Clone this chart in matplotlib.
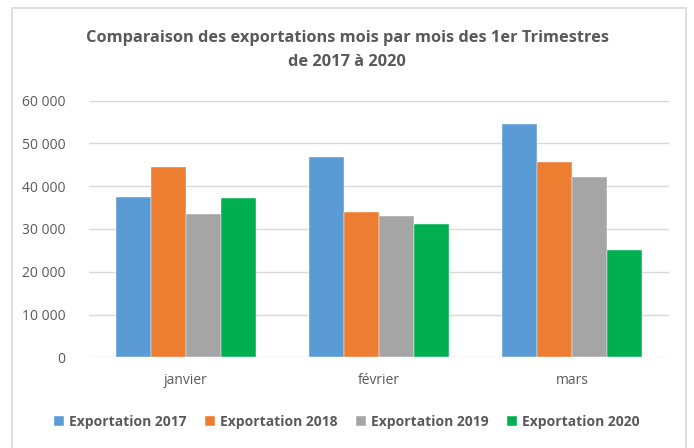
import matplotlib.pyplot as plt
import numpy as np
from matplotlib.patches import Rectangle
from matplotlib.ticker import FuncFormatter, MultipleLocator

plt.rcParams['font.family'] = ['Open Sans', 'DejaVu Sans']

mois = ['janvier', 'février', 'mars']
exp_2017 = [37400, 46800, 54600]
exp_2018 = [44400, 33900, 45700]
exp_2019 = [33400, 33100, 42100]
exp_2020 = [37200, 31100, 25000]
series = ['Exportation 2017', 'Exportation 2018', 'Exportation 2019', 'Exportation 2020']
couleurs = ['#5B9BD5', '#ED7D31', '#A5A5A5', '#00B050']

fig = plt.figure(figsize=(6.94, 4.48), dpi=100)
ax = fig.add_axes([89/694, (448-357.3)/448, 580/694, 256.6/448])

# cadre gris autour du graphique
fig.patches.append(Rectangle((12/694, -0.02), 674/694, (448-8)/448 + 0.02,
                             transform=fig.transFigure, fill=False,
                             edgecolor='#D9D9D9', linewidth=1.2))

x = np.arange(len(mois))
w = 0.181
for i, vals in enumerate([exp_2017, exp_2018, exp_2019, exp_2020]):
    ax.bar(x + (i - 1.5) * w, vals, w, color=couleurs[i], label=series[i],
           edgecolor='white', linewidth=0.3, zorder=3)

ax.set_xlim(-0.5, 2.5)
ax.set_ylim(0, 60000)
ax.yaxis.set_major_locator(MultipleLocator(10000))
ax.yaxis.set_major_formatter(FuncFormatter(lambda v, p: f"{int(v):,}".replace(',', ' ')))
ax.grid(axis='y', color='#D9D9D9', linewidth=1, zorder=0)
for s in ax.spines.values():
    s.set_visible(False)
ax.tick_params(length=0, colors='#595959')
ax.tick_params(axis='y', pad=17, labelsize=10)
ax.tick_params(axis='x', pad=11, labelsize=10)
ax.set_xticks(x)
ax.set_xticklabels(mois)

fig.text(0.5, (448-38)/448, 'Comparaison des exportations mois par mois des 1er Trimestres',
         ha='center', va='center', fontsize=11.8, fontweight='bold', color='#595959')
fig.text(0.5, (448-62)/448, 'de 2017 à 2020',
         ha='center', va='center', fontsize=11.8, fontweight='bold', color='#595959')

fig.legend(loc='center', bbox_to_anchor=(0.5, (448-422)/448), ncol=4, frameon=False,
           handlelength=0.7, handleheight=0.7, handletextpad=0.4, columnspacing=1.3,
           prop={'weight': 'bold', 'size': 10}, labelcolor='#595959')

plt.savefig('out.png')
